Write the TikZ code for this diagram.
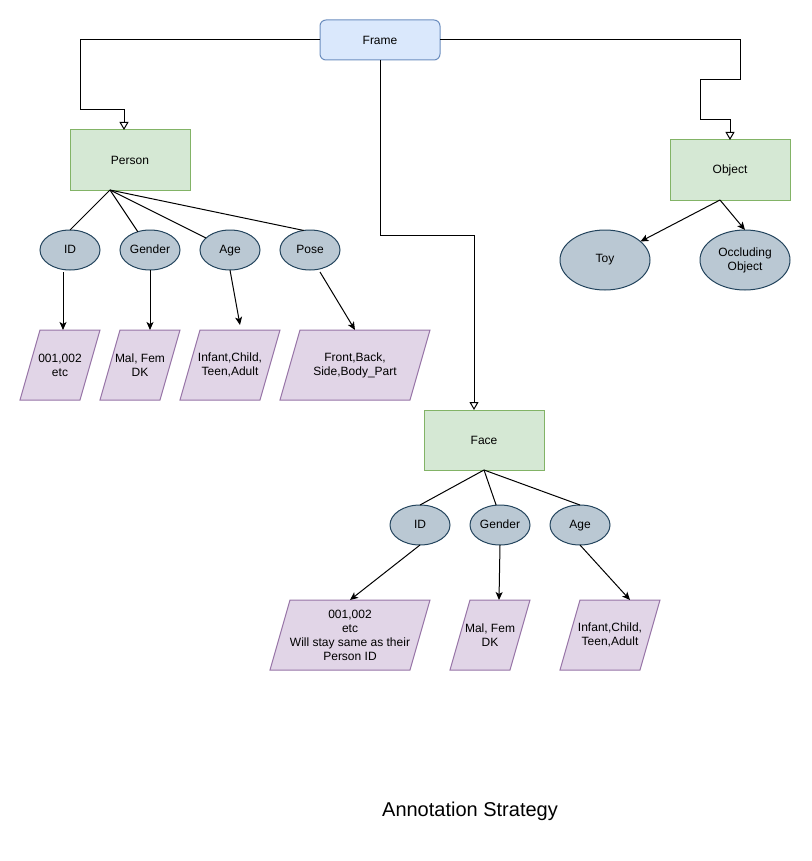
\documentclass[tikz,border=0pt]{standalone}
\usepackage{fontspec}
\setmainfont{Liberation Sans}
\usetikzlibrary{arrows.meta,shapes.geometric,backgrounds}
\definecolor{framefill}{HTML}{DAE8FC}
\definecolor{frameline}{HTML}{6C8EBF}
\definecolor{greenfill}{HTML}{D5E8D4}
\definecolor{greenline}{HTML}{82B366}
\definecolor{attrfill}{HTML}{BAC8D3}
\definecolor{attrline}{HTML}{23445D}
\definecolor{parafill}{HTML}{E1D5E7}
\definecolor{paraline}{HTML}{9673A6}
\begin{document}
\begin{tikzpicture}[x=1pt,y=-1pt, line width=1pt,
 every node/.style={font=\fontsize{12}{14}\selectfont, align=center, inner sep=0pt, outer sep=0pt},
 framebox/.style={draw=frameline, fill=framefill, rounded corners=6pt, minimum width=120pt, minimum height=40pt},
 entity/.style={draw=greenline, fill=greenfill, minimum width=120pt, minimum height=60pt},
 attr/.style={ellipse, draw=attrline, fill=attrfill, minimum width=60pt, minimum height=40pt, text height=8.6pt, text depth=2.5pt},
 bigattr/.style={ellipse, draw=attrline, fill=attrfill, minimum width=90pt, minimum height=60pt},
 ptext/.style={minimum height=70pt},
 pshape/.style={draw=paraline, fill=parafill, line width=1pt},
 link/.style={draw=black, line width=1pt},
 inherit/.style={link, -{Triangle[length=8pt,width=9pt,fill=white]}},
 arrowto/.style={link, -{Stealth[length=8pt,width=7pt,inset=2pt]}},
]
\useasboundingbox (0,0) rectangle (811,861);

% main boxes
\node[framebox] (frame) at (380,40) {Frame};
\node[entity] (person) at (130,160) {Person};
\node[entity] (object) at (730,170) {Object};
\node[entity] (face) at (484,440) {Face};

% person attributes
\node[attr] (id) at (70,250) {ID};
\node[attr] (gender) at (150,250) {Gender};
\node[attr] (age) at (230,250) {Age};
\node[attr] (pose) at (310,250) {Pose};

% object attributes
\node[bigattr] (toy) at (605,260) {Toy};
\node[bigattr] (occ) at (745,260) {Occluding\\Object};

% face attributes
\node[attr] (fid) at (420,525) {ID};
\node[attr] (fgender) at (500,525) {Gender};
\node[attr] (fage) at (580,525) {Age};

% value parallelograms (text nodes)
\node[ptext, minimum width=80pt] (p1) at (60,365) {001,002\\etc};
\node[ptext, minimum width=80pt] (p2) at (140,365) {Mal, Fem\\DK};
\node[ptext, minimum width=100pt] (p3) at (230,365) {Infant,Child,\\Teen,Adult};
\node[ptext, minimum width=150pt] (p4) at (355,365) {Front,Back,\\Side,Body\_Part};
\node[ptext, minimum width=160pt] (fp1) at (350,635) {001,002\\etc\\Will stay same as their\\Person ID};
\node[ptext, minimum width=80pt] (fp2) at (490,635) {Mal, Fem\\DK};
\node[ptext, minimum width=100pt] (fp3) at (610,635) {Infant,Child,\\Teen,Adult};

\begin{scope}[on background layer]
\foreach \n in {p1,p2,p3,p4,fp1,fp2,fp3}{
  \filldraw[pshape] ([xshift=20pt]\n.north west) -- (\n.north east) -- ([xshift=-20pt]\n.south east) -- (\n.south west) -- cycle;
}
\end{scope}

% frame connectors
\coordinate (lb) at (80,110);
\coordinate (rb1) at (740,80);
\coordinate (rb2) at (700,120);
\coordinate (mb) at (474,235);
\draw[inherit] (frame.west) -| (lb) -| ([xshift=-6pt]person.north);
\draw[inherit] (frame.east) -| (rb1) -| (rb2) -| (object.north);
\draw[inherit] (frame.south) |- (mb) -- ([xshift=-10pt]face.north);

% person tree
\coordinate (pb) at ([xshift=-20pt]person.south);
\draw[link] (pb) -- (id.north);
\draw[link] (pb) -- (gender);
\draw[link] (pb) -- (age);
\draw[link] (pb) -- (pose.108);
\draw[arrowto] ([xshift=-7pt,yshift=-2pt]id.south) -- ([xshift=3pt]p1.north);
\draw[arrowto] (gender.south) -- ([xshift=10pt]p2.north);
\draw[arrowto] (age.south) -- ([xshift=10pt,yshift=5pt]p3.north);
\draw[arrowto] ([xshift=10pt,yshift=-2pt]pose.south) -- (p4.north);

% object tree
\coordinate (ob) at ([xshift=-10pt]object.south);
\draw[arrowto] (ob) -- (toy);
\draw[arrowto] (ob) -- (occ.north);

% face tree
\draw[link] (face.south) -- (fid.north);
\draw[link] (face.south) -- (fgender.101);
\draw[link] (face.south) -- (fage.north);
\draw[arrowto] (fid.south) -- (fp1.north);
\draw[arrowto] (fgender.south) -- ([xshift=9pt]fp2.north);
\draw[arrowto] (fage.south) -- ([xshift=20pt]fp3.north);

% title
\node[font=\fontsize{20}{24}\selectfont] (title) at (470,811) {Annotation Strategy};
\end{tikzpicture}
\end{document}
